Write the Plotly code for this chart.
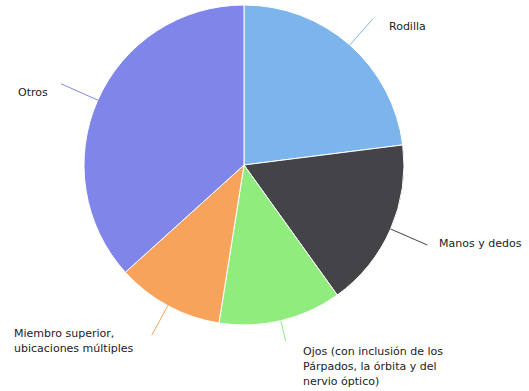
import math
import plotly.graph_objects as go

# Share of cases by body location
categories = [
    "Rodilla",
    "Manos y dedos",
    "Ojos (con inclusión de los Párpados, la órbita y del nervio óptico)",
    "Miembro superior, ubicaciones múltiples",
    "Otros",
]
values = [23.0, 17.1, 12.4, 10.8, 36.7]
label_lines = [
    ["Rodilla"],
    ["Manos y dedos"],
    ["Ojos (con inclusión de los", "Párpados, la órbita y del", "nervio óptico)"],
    ["Miembro superior,", "ubicaciones múltiples"],
    ["Otros"],
]
colors = ["#7cb5ec", "#434348", "#90ed7d", "#f7a35c", "#8085e9"]

W, H = 529, 391
CX, CY, R = 244, 165, 160

# label placement: (connector length factor, text left x, first line y)
label_pos = [
    (1.22, 387, 26),
    (1.25, 437, 243),
    (1.13, 301, 351),
    (1.21, 12, 333),
    (1.25, 16, 92),
]
LINE_H = 15

fig = go.Figure(
    go.Pie(
        labels=categories,
        values=values,
        sort=False,
        direction="clockwise",
        rotation=0,
        textinfo="none",
        hoverinfo="label+percent",
        marker=dict(colors=colors, line=dict(color="white", width=1)),
        domain=dict(
            x=[(CX - R) / W, (CX + R) / W],
            y=[1 - (CY + R) / H, 1 - (CY - R) / H],
        ),
        showlegend=False,
    )
)

def px(x, y):
    return x / W, 1 - y / H

shapes = []
annotations = []
total = sum(values)
cum = 0.0
for i, v in enumerate(values):
    mid = (cum + v / 2) / total * 2 * math.pi
    cum += v
    f, tx, ty = label_pos[i]
    sx, sy = CX + R * math.sin(mid), CY - R * math.cos(mid)
    ex, ey = CX + f * R * math.sin(mid), CY - f * R * math.cos(mid)
    x0, y0 = px(sx, sy)
    x1, y1 = px(ex, ey)
    shapes.append(dict(type="line", xref="paper", yref="paper",
                       x0=x0, y0=y0, x1=x1, y1=y1,
                       line=dict(color=colors[i], width=1)))
    for j, line in enumerate(label_lines[i]):
        ax, ay = px(tx, ty + j * LINE_H)
        annotations.append(dict(
            text=line, xref="paper", yref="paper", x=ax, y=ay,
            xanchor="left", yanchor="middle", showarrow=False,
            font=dict(family="DejaVu Sans", size=11, color="#222222"),
        ))

fig.update_layout(
    width=W, height=H,
    margin=dict(l=0, r=0, t=0, b=0),
    paper_bgcolor="white",
    plot_bgcolor="white",
    shapes=shapes,
    annotations=annotations,
)

fig.write_html("out.html")
